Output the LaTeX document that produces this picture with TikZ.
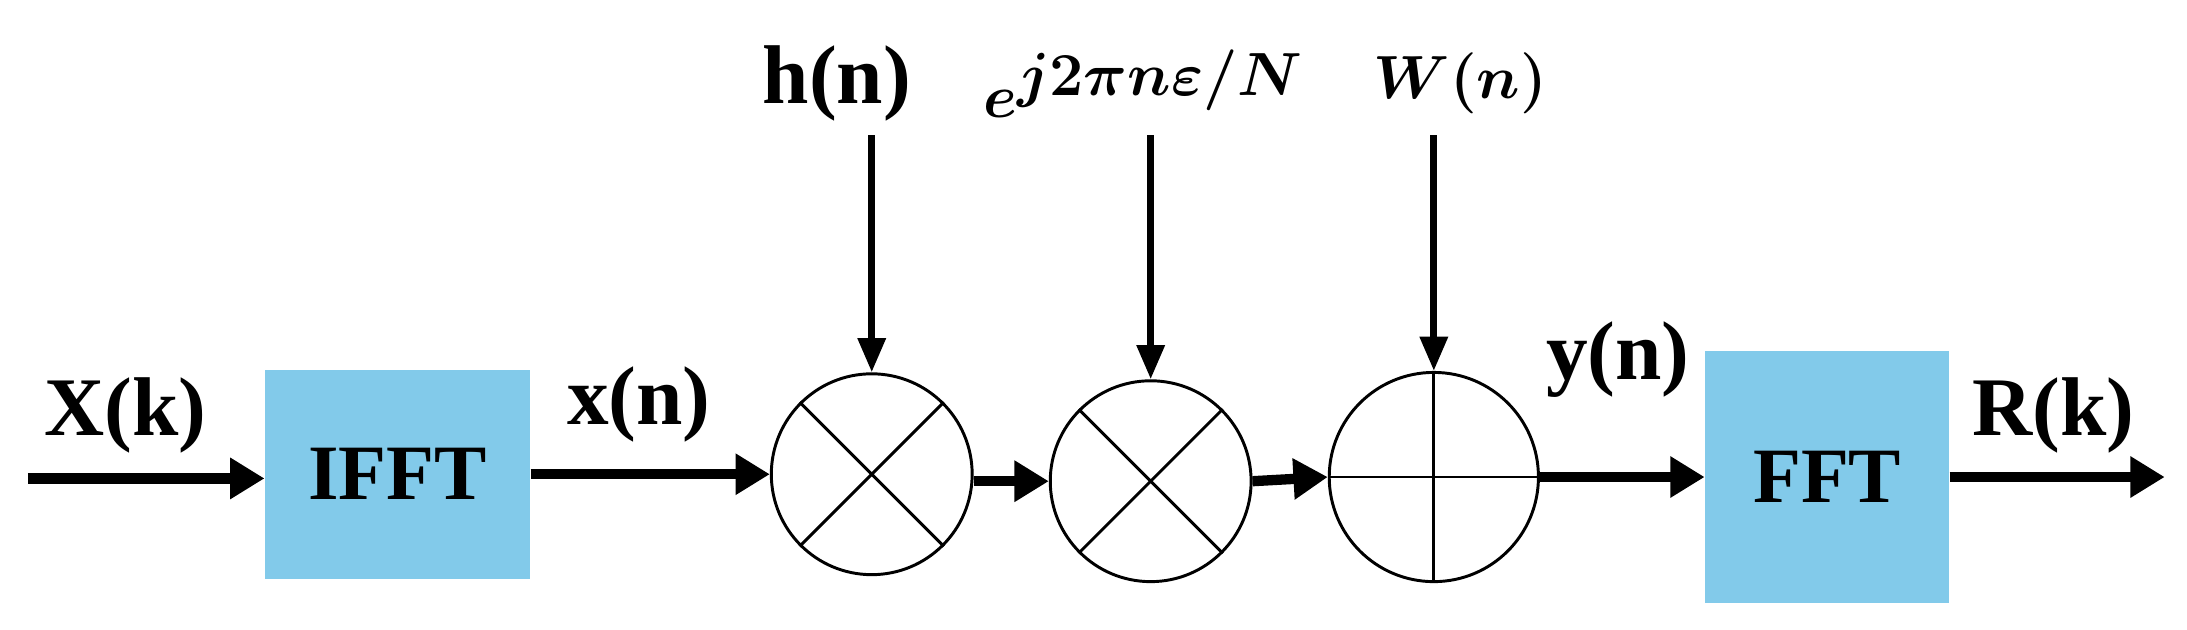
\documentclass[tikz,border=0pt]{standalone}
\usepackage{amsmath,amsbsy}
\usepackage{fontspec}
\setmainfont{Liberation Serif}
\usetikzlibrary{arrows.meta}
\definecolor{boxblue}{HTML}{82CAEA}
\begin{document}
\begin{tikzpicture}[x=0.02cm,y=-0.02cm,
  blk/.style={fill=boxblue,draw=none,minimum width=190*0.02cm,minimum height=150*0.02cm,font=\fontsize{32}{36}\selectfont\bfseries},
  sum/.style={circle,draw,line width=1.2pt,minimum size=144*0.02cm},
  arr/.style={line width=4.2pt,-{Triangle[length=14pt,width=16pt]}},
  varr/.style={line width=2.8pt,-{Triangle[length=14pt,width=11pt]}},
  lbl/.style={font=\fontsize{34}{38}\selectfont\bfseries}]
\useasboundingbox (0,0) rectangle (1568,451);
\node[blk] (ifft) at (285,340) {IFFT};
\node[blk,minimum width=175*0.02cm,minimum height=180*0.02cm] (fft) at (1310,342) {FFT};
\node[sum] (m1) at (625,340) {};
\node[sum] (m2) at (825,345) {};
\node[sum,minimum size=150*0.02cm] (a1) at (1028,342) {};
\draw[line width=1.2pt] (m1.north west) -- (m1.south east) (m1.north east) -- (m1.south west);
\draw[line width=1.2pt] (m2.north west) -- (m2.south east) (m2.north east) -- (m2.south west);
\draw[line width=1.2pt] (a1.north) -- (a1.south) (a1.west) -- (a1.east);
\coordinate (in) at (20,343);
\coordinate (out) at (1552,342);
\coordinate (t1) at (625,97);
\coordinate (t2) at (825,97);
\coordinate (t3) at (1028,97);
\draw[arr] (in) -- (ifft.west |- in);
\draw[arr] (ifft.east |- m1.west) -- (m1.west);
\draw[arr] (m1.east |- m2.west) -- (m2.west);
\draw[arr] (m2.east) -- (a1.west);
\draw[arr] (a1.east) -- (fft.west |- a1.east);
\draw[arr] (fft.east |- out) -- (out);
\draw[varr] (t1) -- (m1.north);
\draw[varr] (t2) -- (m2.north);
\draw[varr] (t3) -- (a1.north);
\node[lbl] (lx) at (90,298) {X(k)};
\node[lbl] (lxn) at (458,290) {x(n)};
\node[lbl] (lh) at (600,60) {h(n)};
\node[lbl,font=\fontsize{40}{44}\selectfont] (le) at (820,60) {$\boldsymbol{e^{j2\pi n\varepsilon/N}}$};
\node[lbl,font=\fontsize{40}{44}\selectfont] (lw) at (1047,60) {$\boldsymbol{W(n)}$};
\node[lbl] (ly) at (1160,258) {y(n)};
\node[lbl] (lr) at (1472,298) {R(k)};
\end{tikzpicture}
\end{document}
